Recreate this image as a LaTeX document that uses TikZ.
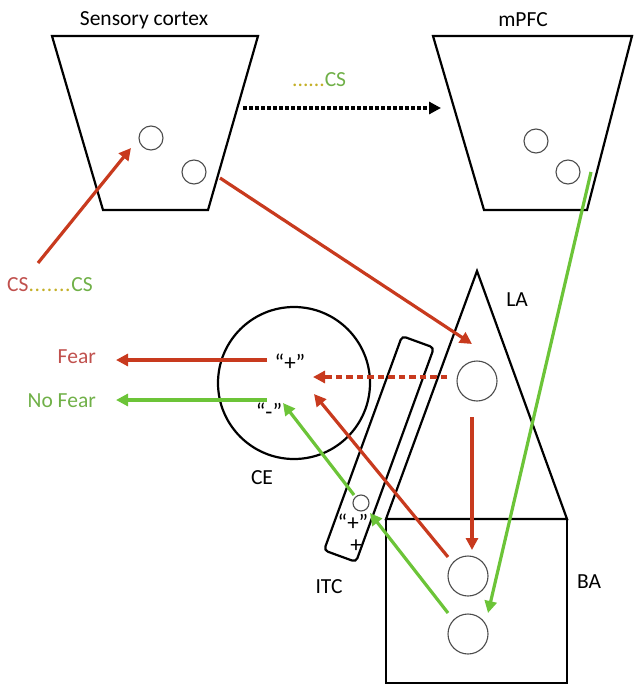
\documentclass[tikz,border=0pt]{standalone}
\usepackage{fontspec}
\setmainfont{Carlito}
\usetikzlibrary{arrows.meta}
\definecolor{arrred}{RGB}{200,58,30}
\definecolor{arrgreen}{RGB}{108,196,56}
\definecolor{txtred}{RGB}{192,80,77}
\definecolor{txtgreen}{RGB}{112,176,72}
\definecolor{dotyellow}{RGB}{196,176,40}
\newcommand{\dotrow}[1]{\foreach \i in {1,...,#1}{.\kern0.7pt}}
\begin{document}
\begin{tikzpicture}[x=1pt,y=-1pt,
  region/.style={draw=black,line width=2.2pt,line join=miter},
  cell/.style={circle,draw=black!70,line width=1.1pt,inner sep=0pt,minimum size=#1},
  lbl/.style={font=\fontsize{21.5}{24}\selectfont,inner sep=0pt},
  sign/.style={font=\fontsize{23}{26}\selectfont,inner sep=0pt},
  tip/.style={-{Triangle[length=12pt,width=12pt]}},
  redarrow/.style={draw=arrred,line width=3.2pt,tip},
  greenarrow/.style={draw=arrgreen,line width=3.2pt,tip},
  reddash/.style={redarrow,dash pattern=on 6.5pt off 4pt},
  blackdots/.style={draw=black,line width=3.4pt,dash pattern=on 3.5pt off 2.5pt,tip}
]
\useasboundingbox (0,0) rectangle (633,685);

% cortical regions
\draw[region] (52,36) -- (258,36) -- (208,210) -- (103,210) -- cycle;
\draw[region] (433,36) -- (632,36) -- (587,210) -- (484,210) -- cycle;
\node[lbl] (sclabel) at (144,20) {Sensory cortex};
\node[lbl] (pfclabel) at (523,20) {mPFC};
\node[cell=24pt] (sc1) at (151,138) {};
\node[cell=24pt] (sc2) at (194,172) {};
\node[cell=24pt] (pfc1) at (536,141) {};
\node[cell=24pt] (pfc2) at (568,172) {};

% amygdala: LA, BA, CE, ITC
\draw[region] (477,271) -- (567,519) -- (386,519) -- cycle;
\draw[region] (386,683) -- (386,519) -- (567,519) -- (567,683) -- cycle;
\node[circle,draw=black,line width=2.2pt,minimum size=152pt,inner sep=0pt] (ce) at (294,383) {};
\node[draw=black,line width=2.2pt,rounded corners=4pt,minimum width=228pt,minimum height=34pt,
      inner sep=0pt,rotate=70] (itc) at (379,449) {};
\node[cell=40pt] (la) at (477,381) {};
\node[cell=40pt] (ba1) at (468,576) {};
\node[cell=40pt] (ba2) at (468,634) {};
\node[cell=16pt] (itccell) at (361,503) {};

\node[lbl] (lalabel) at (517,300) {LA};
\node[lbl] (balabel) at (589,582) {BA};
\node[lbl] (itclabel) at (329,587) {ITC};
\node[lbl] (celabel) at (262,478) {CE};
\node[sign] (ceplus) at (290,362) {“+”};
\node[sign] (ceminus) at (269,411) {“-”};
\node[sign] (itcplus) at (353,522) {“+”};
\node[sign] (itcsign) at (356,546) {+};

% outputs and stimulus labels
\node[lbl,anchor=east,text=txtred] (fear) at (96,357) {Fear};
\node[lbl,anchor=east,text=txtgreen] (nofear) at (96,401) {No Fear};
\node[lbl,anchor=west] (cs) at (7,285)
  {\textcolor{txtred}{CS}\textcolor{dotyellow}{\dotrow{7}}\textcolor{txtgreen}{CS}};
\node[lbl,anchor=west] (cslater) at (292,80)
  {\textcolor{dotyellow}{......}\textcolor{txtgreen}{CS}};

% connector end points
\coordinate (csout) at (38,263);
\coordinate (scin) at (131,148);
\coordinate (scout) at (220,178);
\coordinate (scright) at (243,108);
\coordinate (pfcleft) at (441,108);
\coordinate (lain) at (472,344);
\coordinate (laleft) at (447,377);
\coordinate (ceplusin) at (313,377);
\coordinate (lalow) at (472,417);
\coordinate (bain) at (472,550);
\coordinate (ba1out) at (448,557);
\coordinate (cein) at (314,394);
\coordinate (ba2out) at (448,613);
\coordinate (itcin) at (370,513);
\coordinate (itcout) at (354,495);
\coordinate (ceminusin) at (283,403);
\coordinate (pfcout) at (591,172);
\coordinate (ba2in) at (488,613);
\coordinate (fearout) at (267,360);
\coordinate (fearend) at (116,360);
\coordinate (nofearout) at (267,400);
\coordinate (nofearend) at (116,400);

% connectors
\draw[redarrow] (csout) -- (scin);
\draw[redarrow] (scout) -- (lain);
\draw[blackdots] (scright) -- (pfcleft);
\draw[reddash] (laleft) -- (ceplusin);
\draw[redarrow] (lalow) -- (bain);
\draw[redarrow] (ba1out) -- (cein);
\draw[greenarrow] (ba2out) -- (itcin);
\draw[greenarrow] (itcout) -- (ceminusin);
\draw[greenarrow] (pfcout) -- (ba2in);
\draw[redarrow] (fearout) -- (fearend);
\draw[greenarrow] (nofearout) -- (nofearend);
\end{tikzpicture}
\end{document}
